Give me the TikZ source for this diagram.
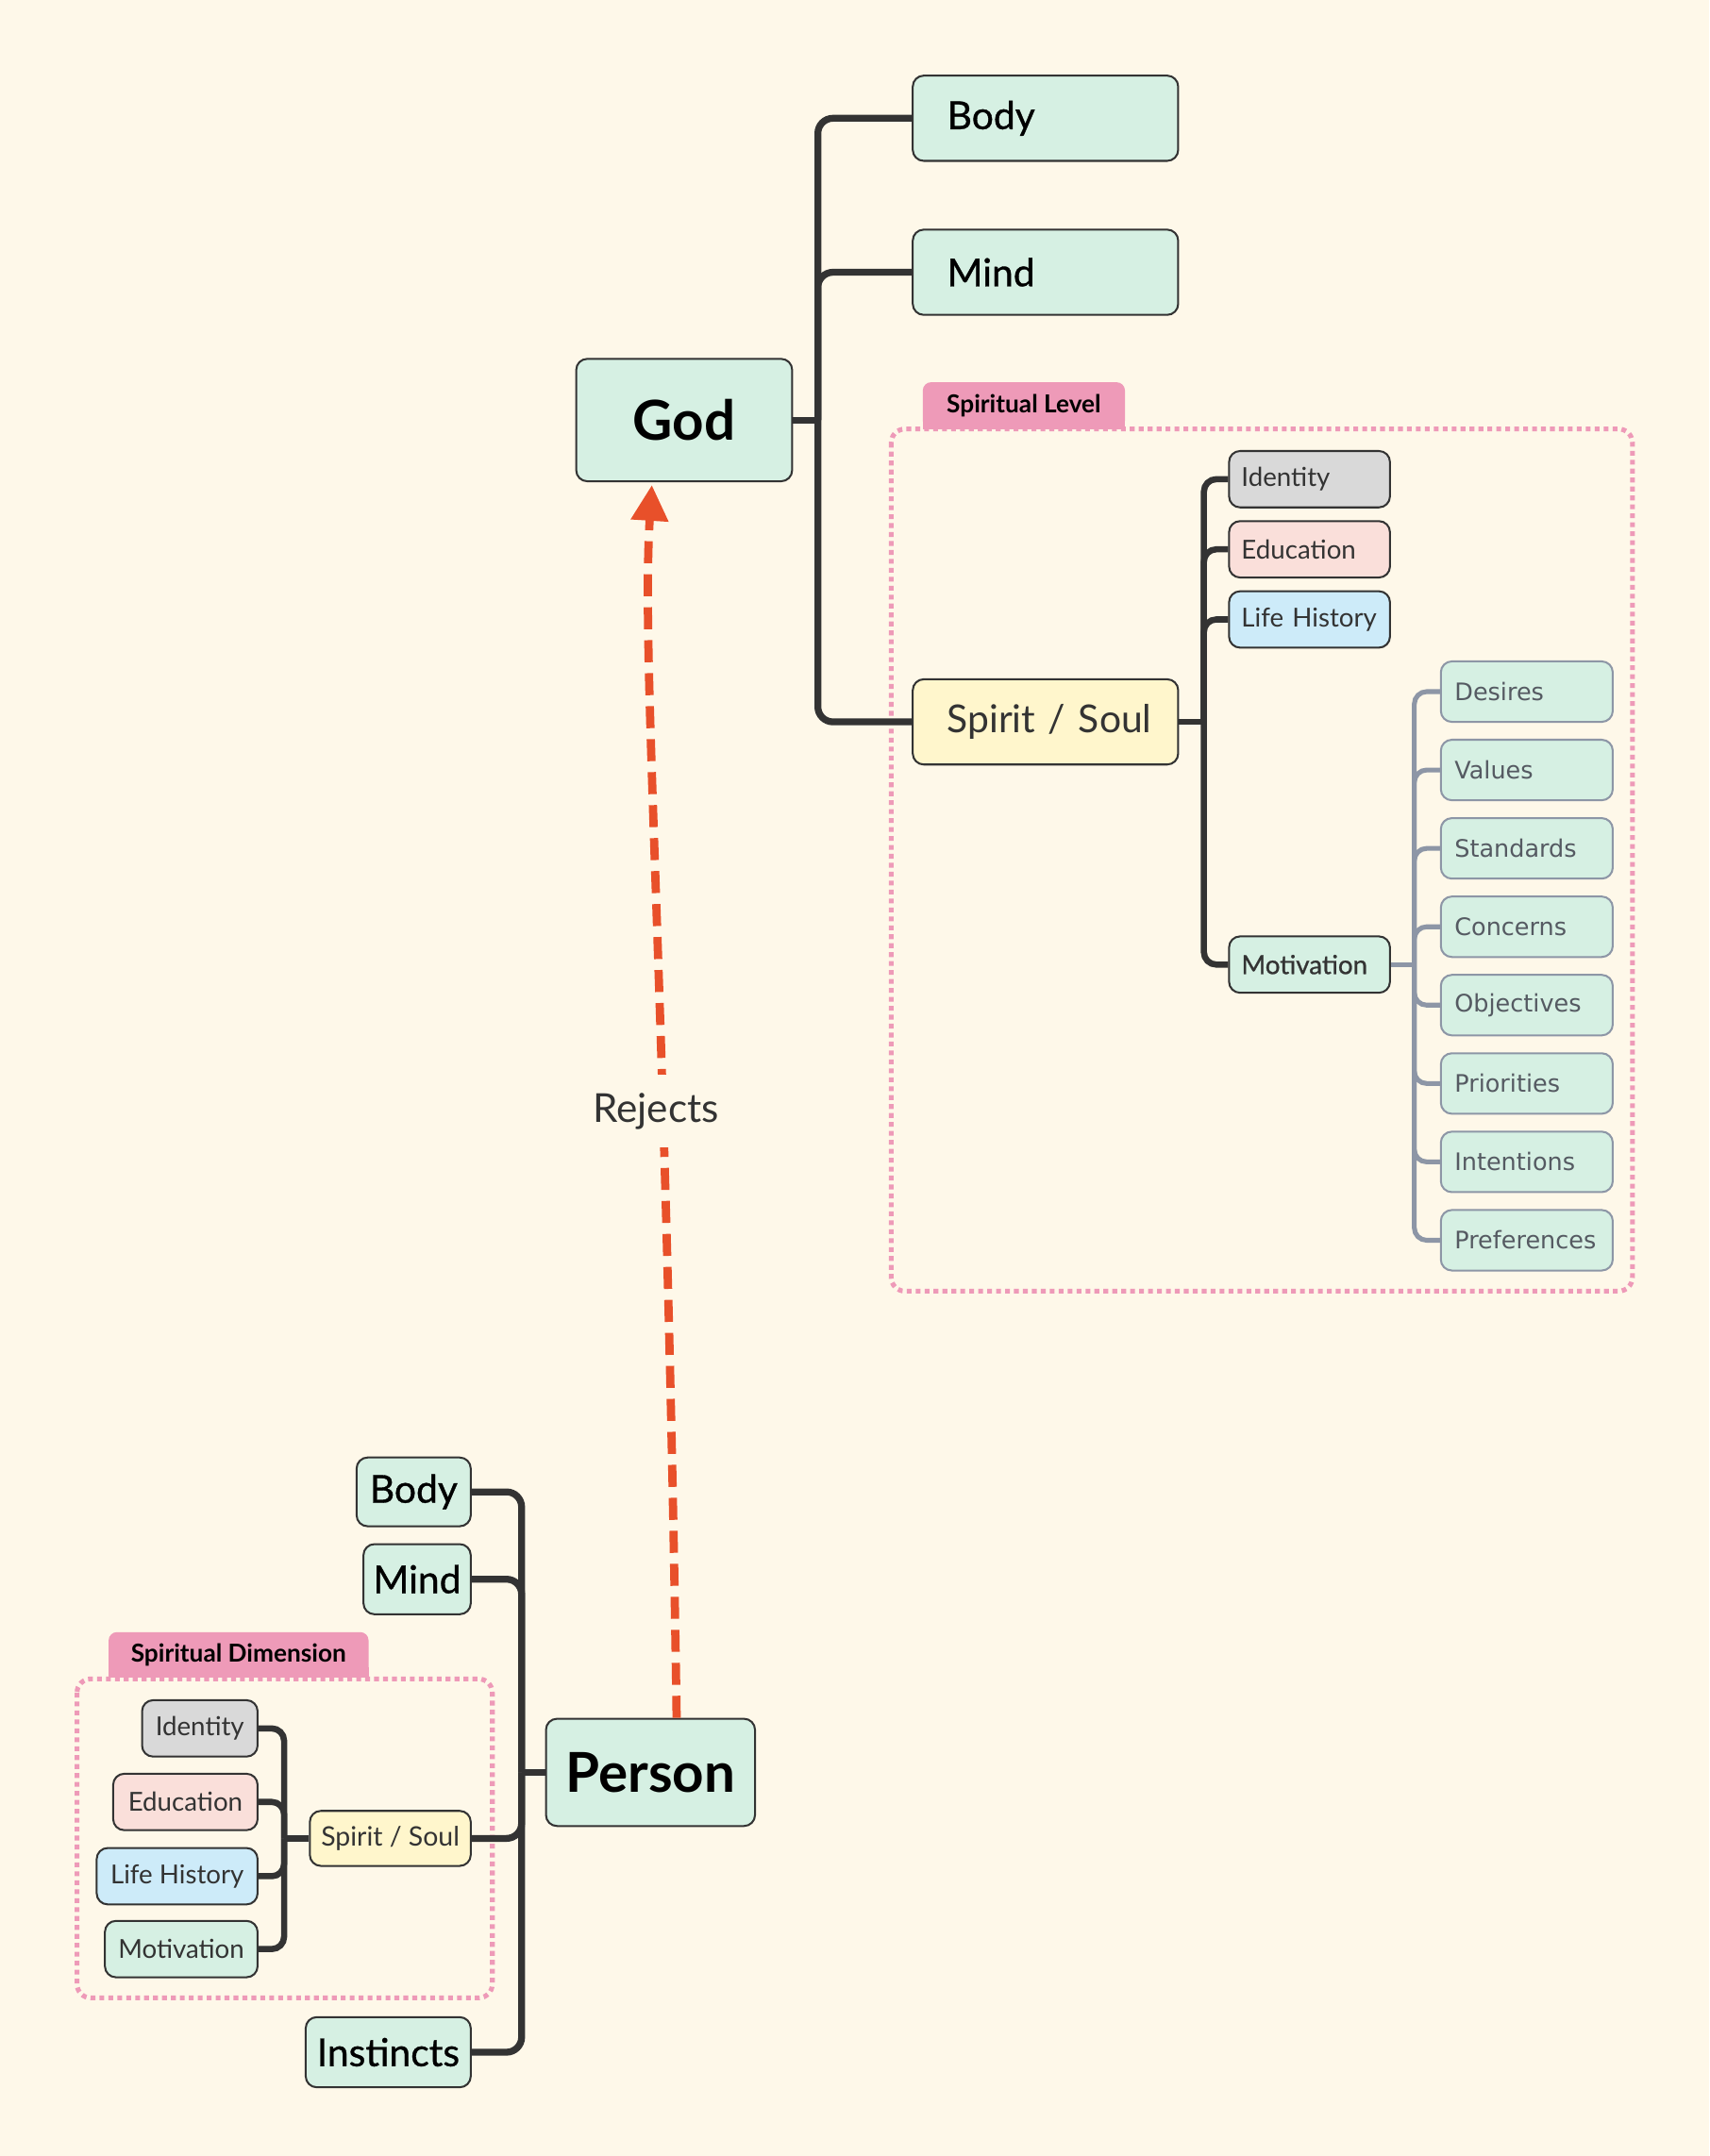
\documentclass[tikz,border=0pt]{standalone}
\usepackage{fontspec}
\setmainfont{Lato}
\newfontfamily\medf{Lato}[FakeBold=0.8]
\newfontfamily\dvs{DejaVu Sans}
\usetikzlibrary{arrows.meta,calc}
\definecolor{bg}{HTML}{FEF8E9}
\definecolor{mint}{HTML}{D6F0E3}
\definecolor{ylw}{HTML}{FFF6CC}
\definecolor{gry}{HTML}{D9D9D9}
\definecolor{pnk}{HTML}{FADFDA}
\definecolor{blu}{HTML}{CDEBF9}
\definecolor{tagp}{HTML}{EE9AB8}
\definecolor{dline}{HTML}{333333}
\definecolor{sline}{HTML}{8D96A6}
\definecolor{mtext}{HTML}{555A62}
\definecolor{redd}{HTML}{E8502A}
\begin{document}
\begin{tikzpicture}[x=1pt,y=-1pt,
  box/.style={draw=dline, line width=1.4pt, rounded corners=8pt, inner ysep=0pt},
  rootbox/.style={box, fill=mint, inner xsep=0pt, text=black, font=\bfseries\fontsize{40}{42}\selectfont},
  bigl/.style={box, fill=mint, anchor=west, text width=143pt, inner xsep=25pt, align=left, minimum height=62pt, text=black, font=\medf\fontsize{28}{30}\selectfont},
  subl/.style={box, anchor=west, text width=99pt, inner xsep=9pt, align=left, minimum height=41pt, text=dline, font=\fontsize{19}{21}\selectfont},
  mitem/.style={box, draw=sline, fill=mint, anchor=west, text width=105pt, inner xsep=10pt, align=left, minimum height=44pt, text=mtext, font=\dvs\fontsize{17.5}{19}\selectfont},
  lowbox/.style={box, anchor=east, inner xsep=0pt, fill=mint, text=black, font=\medf\fontsize{28}{30}\selectfont},
  lowsub/.style={box, anchor=east, inner xsep=0pt, minimum height=41pt, text=dline, font=\fontsize{19}{21}\selectfont},
  trunk/.style={draw=dline, line width=5pt, rounded corners=11pt},
  branch/.style={draw=dline, line width=4.5pt, rounded corners=9pt},
  mbranch/.style={draw=sline, line width=3.5pt, rounded corners=9pt},
  frame/.style={draw=tagp, line width=3.5pt, dash pattern=on 3.5pt off 3pt, rounded corners=10pt},
  tag/.style={fill=tagp, rounded corners=6pt, inner sep=0pt, text=black, font=\bfseries\fontsize{18}{20}\selectfont},
  rejline/.style={draw=redd, line width=6pt, dash pattern=on 16pt off 8pt, -{Triangle[length=26pt,width=26pt]}}
]
\fill[bg] (0,0) rectangle (1243,1568);
\useasboundingbox (0,0) rectangle (1243,1568);

% ---------- top tree ----------
\node[tag, minimum width=147pt, minimum height=34pt] (ttag) at (744.5,295) {Spiritual Level};
\fill[tagp] ($(ttag.south west)+(0,-8)$) rectangle (ttag.south east);
\draw[frame] (648,312) rectangle (1187,939);

\node[rootbox, minimum width=157pt, minimum height=89pt] (god) at (497.5,305.5) {God};
\node[bigl] (tbody) at (663,86) {Body};
\node[bigl] (tmind) at (663,198) {Mind};
\node[bigl, fill=ylw, text=dline, font=\fontsize{28}{30}\selectfont] (tspirit) at (663,525) {\mbox{Spirit / Soul}};

\node[subl, fill=gry] (tid) at (893,348.5) {Identity};
\node[subl, fill=pnk] (tedu) at (893,399.5) {Education};
\node[subl, fill=blu] (tlife) at (893,450.5) {Life History};
\node[subl, fill=mint, font=\medf\fontsize{19}{21}\selectfont] (tmot) at (893,701.5) {Motivation};

\node[mitem] (m1) at (1047,503) {Desires};
\node[mitem] (m2) at (1047,560) {Values};
\node[mitem] (m3) at (1047,617) {Standards};
\node[mitem] (m4) at (1047,674) {Concerns};
\node[mitem] (m5) at (1047,731) {Objectives};
\node[mitem] (m6) at (1047,788) {Priorities};
\node[mitem] (m7) at (1047,845) {Intentions};
\node[mitem] (m8) at (1047,902) {Preferences};

\draw[trunk] (god.east) -- ++(18,0) coordinate (gj);
\foreach \n in {tbody,tmind,tspirit} \draw[trunk] (gj) |- (\n.west);
\draw[branch] (tspirit.east) -- ++(18,0) coordinate (sj);
\foreach \n in {tid,tedu,tlife,tmot} \draw[branch] (sj) |- (\n.west);
\draw[mbranch] (tmot.east) -- ++(17,0) coordinate (mj);
\foreach \n in {m1,m2,m3,m4,m5,m6,m7,m8} \draw[mbranch] (mj) |- (\n.west);

% ---------- bottom tree ----------
\node[tag, minimum width=189pt, minimum height=33pt] (btag) at (173.5,1203.5) {Spiritual Dimension};
\fill[tagp] ($(btag.south west)+(0,-8)$) rectangle (btag.south east);
\draw[frame] (56,1221) rectangle (358,1453);

\node[rootbox, minimum width=152pt, minimum height=78pt] (person) at (473,1289) {Person};
\node[lowbox, minimum width=83pt, minimum height=50pt] (bbody) at (343,1085) {Body};
\node[lowbox, minimum width=78pt, minimum height=51pt] (bmind) at (343,1148.5) {Mind};
\node[lowbox, minimum width=117pt, minimum height=40pt, fill=ylw, text=dline, font=\fontsize{19.5}{21}\selectfont] (bspirit) at (343,1337) {Spirit / Soul};
\node[lowbox, minimum width=120pt, minimum height=51pt] (binst) at (343,1492.5) {Instincts};

\node[lowsub, fill=gry, minimum width=84pt] (bid) at (188,1257) {Identity};
\node[lowsub, fill=pnk, minimum width=105pt] (bedu) at (188,1310.5) {Education};
\node[lowsub, fill=blu, minimum width=117pt] (blife) at (188,1364.5) {Life History};
\node[lowsub, fill=mint, minimum width=111pt] (bmot) at (188,1417.5) {Motivation};

\draw[trunk] (person.west) -- ++(-17,0) coordinate (pj);
\foreach \n in {bbody,bmind,bspirit,binst} \draw[trunk] (pj) |- (\n.east);
\draw[branch] (bspirit.west) -- ++(-18,0) coordinate (bj);
\foreach \n in {bid,bedu,blife,bmot} \draw[branch] (bj) |- (\n.east);

% ---------- rejects arrow ----------
\draw[rejline] ($(person.north)+(19,0)$) .. controls (484,700) and (466,480) .. ($(god.south)+(-23.5,2)$);
\node[fill=bg, inner xsep=4pt, inner ysep=13pt, text=dline, font=\fontsize{29}{31}\selectfont] (rej) at (477,808) {Rejects};
\end{tikzpicture}
\end{document}
